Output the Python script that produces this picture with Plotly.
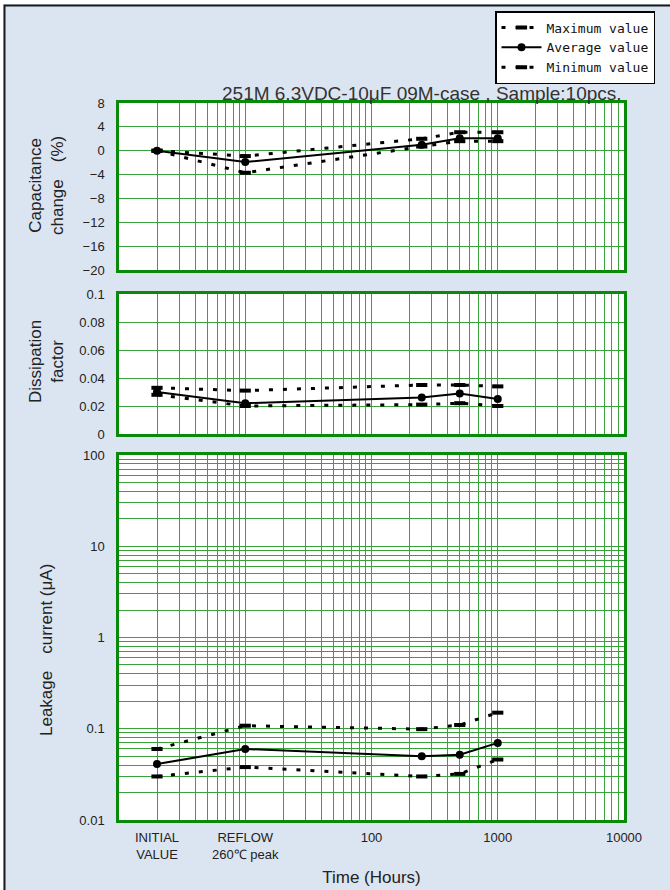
import plotly.graph_objects as go
from plotly.subplots import make_subplots

# ---------------- data ----------------
hours = [2, 10, 250, 500, 1000]  # 2 = INITIAL VALUE, 10 = REFLOW

cap_max = [0.0, -0.9, 2.0, 3.1, 3.1]
cap_avg = [0.0, -1.9, 1.0, 2.1, 2.1]
cap_min = [0.0, -3.7, 0.7, 1.6, 1.6]

df_max = [0.033, 0.031, 0.035, 0.035, 0.034]
df_avg = [0.030, 0.022, 0.026, 0.029, 0.025]
df_min = [0.028, 0.020, 0.021, 0.022, 0.020]

lc_max = [0.060, 0.108, 0.099, 0.110, 0.150]
lc_avg = [0.041, 0.060, 0.050, 0.052, 0.070]
lc_min = [0.030, 0.038, 0.030, 0.032, 0.046]

series_names = ["Maximum value", "Average value", "Minimum value"]

x_label_vals = [2, 10, 100, 1000, 10000]
x_label_text = ["INITIAL<br>VALUE", "REFLOW<br>260\u2103 peak", "100", "1000", "10000"]

cap_ticks = [-20, -16, -12, -8, -4, 0, 4, 8]
lc_label_vals = [0.01, 0.1, 1, 10, 100]
lc_label_text = ["0.01", "0.1", "1", "10", "100"]

title_text = "251M 6.3VDC-10\u03bcF 09M-case , Sample:10pcs."

# ---------------- layout geometry ----------------
W, H = 670, 890
L, R, T, B = 119, 46, 103, 70


def px_x(x):
    return (x - L) / (W - L - R)


def px_y(y):
    return (H - B - y) / (H - T - B)


# log grid positions (every digit)
def log_grid(lo_exp, hi_exp):
    vals = []
    for e in range(lo_exp, hi_exp):
        for d in range(1, 10):
            vals.append(round(d * 10 ** e, 6))
    vals.append(round(10 ** hi_exp, 6))
    return vals


x_grid = log_grid(0, 4)
x_text = [x_label_text[x_label_vals.index(v)] if v in x_label_vals else "" for v in x_grid]
lc_grid = log_grid(-2, 2)
lc_text = [lc_label_text[lc_label_vals.index(v)] if v in lc_label_vals else "" for v in lc_grid]

fig = make_subplots(rows=3, cols=1, shared_xaxes=True)

dot = "4px,10px"
styles = [
    dict(line=dict(color="black", width=3, dash=dot),
         marker=dict(symbol="line-ew", size=8, line=dict(color="black", width=4))),
    dict(line=dict(color="black", width=2),
         marker=dict(symbol="circle", size=8, color="black")),
    dict(line=dict(color="black", width=3, dash=dot),
         marker=dict(symbol="line-ew", size=8, line=dict(color="black", width=4))),
]

data_rows = [
    [cap_max, cap_avg, cap_min],
    [df_max, df_avg, df_min],
    [lc_max, lc_avg, lc_min],
]

for r, row in enumerate(data_rows, start=1):
    for i, ys in enumerate(row):
        fig.add_trace(
            go.Scatter(x=hours, y=ys, mode="lines+markers", name=series_names[i],
                       legendgroup=series_names[i], showlegend=(r == 1),
                       **styles[i]),
            row=r, col=1)

grid_col = "#3aa23a"
frame_col = "#0a8a0a"
tick_font = dict(family="Liberation Sans, Arial, sans-serif", size=13, color="#222")

common_x = dict(type="log", range=[0, 4], tickmode="array", tickvals=x_grid,
                showgrid=True, gridcolor=grid_col, gridwidth=1,
                showline=True, linecolor=frame_col, linewidth=2.5, mirror=True,
                ticks="", zeroline=False)

fig.update_xaxes(**common_x, showticklabels=False, row=1, col=1)
fig.update_xaxes(**common_x, showticklabels=False, row=2, col=1)
fig.update_xaxes(**common_x, ticktext=x_text, showticklabels=True, tickfont=tick_font,
                 ticklabelstandoff=4,
                 title=dict(text="Time (Hours)", standoff=10,
                            font=dict(family="Liberation Sans, Arial, sans-serif", size=17, color="#222")),
                 row=3, col=1)

common_y = dict(showgrid=True, gridcolor=grid_col, gridwidth=1,
                showline=True, linecolor=frame_col, linewidth=2.5, mirror=True,
                ticks="", zeroline=False, tickfont=tick_font, ticklabelstandoff=9)

fig.update_yaxes(**common_y, range=[-20, 8], tickmode="array", tickvals=cap_ticks, row=1, col=1)
fig.update_yaxes(**common_y, range=[0, 0.1], dtick=0.02, tick0=0, row=2, col=1)
fig.update_yaxes(**common_y, type="log", range=[-2, 2], tickmode="array", tickvals=lc_grid,
                 ticktext=lc_text, row=3, col=1)

fig.update_layout(
    xaxis=dict(domain=[0, 1]), xaxis2=dict(domain=[0, 1]), xaxis3=dict(domain=[0, 1]),
    yaxis=dict(domain=[px_y(270), px_y(103)]),
    yaxis2=dict(domain=[px_y(434), px_y(294)]),
    yaxis3=dict(domain=[0, px_y(455)]),
)

title_font = dict(family="Liberation Sans, Arial, sans-serif", size=17, color="#222")
annotations = [
    dict(text=title_text, xref="paper", yref="paper", x=1.0, y=px_y(93),
         xanchor="right", yanchor="middle", showarrow=False,
         font=dict(family="Liberation Sans, Arial, sans-serif", size=19, color="#333")),
    dict(text="Capacitance<br>change\u3000(%)", xref="paper", yref="paper",
         x=px_x(46), y=px_y(186), textangle=-90, showarrow=False,
         xanchor="center", yanchor="middle", font=title_font),
    dict(text="Dissipation<br>factor", xref="paper", yref="paper",
         x=px_x(46), y=px_y(362), textangle=-90, showarrow=False,
         xanchor="center", yanchor="middle", font=title_font),
    dict(text="Leakage\u3000current (\u03bcA)", xref="paper", yref="paper",
         x=px_x(46), y=px_y(650), textangle=-90, showarrow=False,
         xanchor="center", yanchor="middle", font=title_font),
]

shapes = [
    # white strips outside frame
    dict(type="rect", xref="paper", yref="paper", x0=px_x(-20), x1=px_x(3), y0=px_y(910), y1=px_y(-20),
         fillcolor="white", line=dict(width=0), layer="above"),
    dict(type="rect", xref="paper", yref="paper", x0=px_x(-20), x1=px_x(700), y0=px_y(4), y1=px_y(-20),
         fillcolor="white", line=dict(width=0), layer="above"),
    # frame
    dict(type="rect", xref="paper", yref="paper", x0=px_x(4.5), x1=px_x(720), y0=px_y(930), y1=px_y(5.5),
         fillcolor="rgba(0,0,0,0)", line=dict(color="#1a1a1a", width=2), layer="above"),
]

fig.update_layout(
    width=W, height=H,
    margin=dict(l=L, r=R, t=T, b=B, autoexpand=False),
    paper_bgcolor="#dbe5f1",
    plot_bgcolor="white",
    showlegend=True,
    legend=dict(xref="container", yref="container", x=655 / W, y=1 - 11 / H,
                xanchor="right", yanchor="top", bgcolor="white",
                bordercolor="black", borderwidth=1.5,
                font=dict(family="DejaVu Sans Mono, Liberation Mono, monospace", size=13, color="#111"),
                itemwidth=40, tracegroupgap=0),
    annotations=annotations,
    shapes=shapes,
)

fig.write_html("out.html", config={"displayModeBar": False},
               post_script="document.body.style.margin='0';document.body.style.overflow='hidden';")
